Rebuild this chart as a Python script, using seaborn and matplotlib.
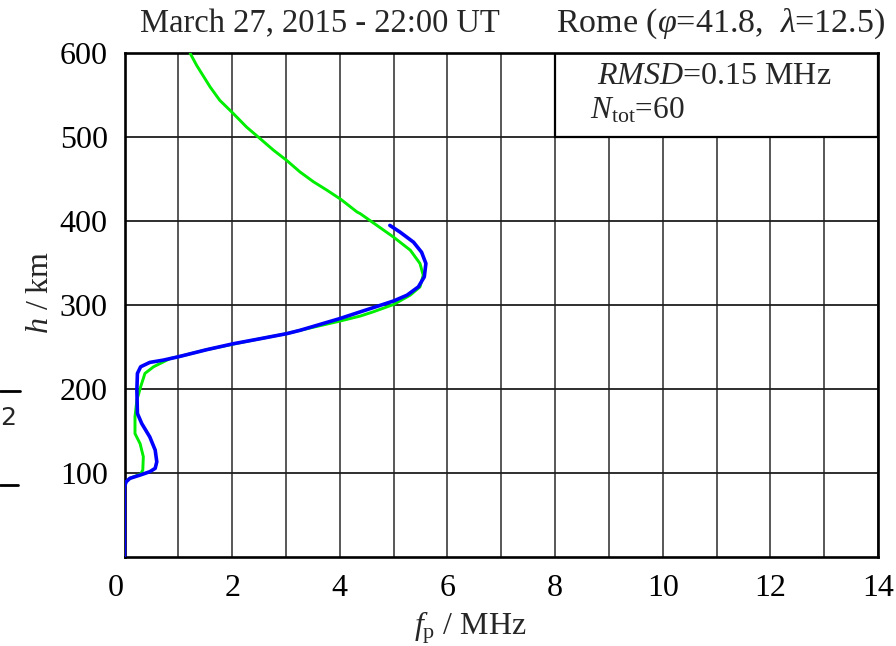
import matplotlib
matplotlib.use("Agg")
import matplotlib.pyplot as plt
import seaborn as sns
import pandas as pd
from matplotlib.patches import Rectangle
from matplotlib.lines import Line2D
from matplotlib.transforms import ScaledTranslation

# ---- data ----
model_f = [1.22, 1.34, 1.59, 1.77, 2.01, 2.27, 2.49, 2.77, 3.01, 3.26, 3.51, 3.76,
           4.02, 4.32, 4.38, 4.69, 5.00, 5.31, 5.49, 5.55, 5.49, 5.31, 5.00, 4.62,
           4.38, 4.00, 3.26, 3.01, 2.52, 2.02, 1.53, 1.00, 0.85, 0.54, 0.38, 0.30,
           0.23, 0.195, 0.195, 0.29, 0.35, 0.34, 0.30, 0.10, 0.03, 0.0, 0.0]
model_h = [600, 585.7, 560, 544, 529, 512, 500, 484.5, 472.6, 458.7, 447, 437,
           426, 411, 409, 395, 381, 365.5, 349.6, 335.7, 321.8, 312, 300.8, 292,
           287, 281, 270, 266, 260, 253.6, 247, 238.5, 236.5, 226.6, 218.7, 202.8,
           187, 167, 147, 135, 119.4, 103.6, 98.8, 93.7, 89.6, 83.7, 0]

meas_f = [4.93, 5.12, 5.37, 5.52, 5.60, 5.57, 5.46, 5.25, 5.00, 4.62, 4.38, 4.00,
          3.26, 3.01, 2.52, 2.02, 1.53, 1.00, 0.72, 0.47, 0.30, 0.24, 0.23, 0.24,
          0.32, 0.47, 0.57, 0.60, 0.57, 0.47, 0.29, 0.10, 0.03, 0.0, 0.0]
meas_h = [395, 387, 375, 363, 349.6, 333.7, 321.8, 311.9, 305, 297, 292, 284,
          270, 266, 260, 254, 247, 238.5, 234.5, 231.8, 226.6, 218.7, 198.8, 171,
          159, 143, 127.4, 113.4, 105.6, 101.6, 97.6, 93.7, 89.6, 83.7, 0]

x_ticks = [0, 2, 4, 6, 8, 10, 12, 14]
y_ticks = [100, 200, 300, 400, 500, 600]
title_left = "March 27, 2015 - 22:00 UT"
title_right = r"Rome ($\varphi$=41.8,  $\lambda$=12.5)"
rmsd_text = r"$RMSD$=0.15 MHz"
ntot_text = r"$N_{\rm tot}$=60"

# ---- style ----
sns.set_theme(style="white")
plt.rcParams["font.family"] = ["Liberation Serif", "DejaVu Serif"]
plt.rcParams["mathtext.fontset"] = "custom"
plt.rcParams["mathtext.rm"] = "Liberation Serif"
plt.rcParams["mathtext.it"] = "Liberation Serif:italic"
plt.rcParams["mathtext.bf"] = "Liberation Serif:bold"

fig = plt.figure(figsize=(8.96, 6.46), dpi=100)
AX_L, AX_R, AX_T, AX_B = 124.5, 878, 53.3, 557
ax = fig.add_axes([AX_L / 896, 1 - AX_B / 646, (AX_R - AX_L) / 896, (AX_B - AX_T) / 646])

df_model = pd.DataFrame({"f": model_f, "h": model_h})
df_meas = pd.DataFrame({"f": meas_f, "h": meas_h})

sns.lineplot(data=df_model, x="f", y="h", sort=False, estimator=None, ax=ax,
             color="#00ee00", linewidth=2.1, zorder=3)
sns.lineplot(data=df_meas, x="f", y="h", sort=False, estimator=None, ax=ax,
             color="#0000ff", linewidth=2.6, zorder=4)

ax.set_xlim(0, 14)
ax.set_ylim(0, 600)
ax.set_xticks(x_ticks)
ax.set_xticks([v for v in range(1, 14, 2)], minor=True)
ax.set_yticks(y_ticks)
ax.set_xticklabels([str(v) for v in x_ticks])
ax.set_yticklabels([str(v) for v in y_ticks])
ax.set_axisbelow(True)
ax.xaxis.grid(True, which="both", color="#4a4a4a", linewidth=1.3)
ax.yaxis.grid(True, which="major", color="#1e1e1e", linewidth=1.3)
ax.tick_params(axis="both", which="both", length=0, labelsize=23, colors="black")
ax.tick_params(axis="x", pad=12)
ax.tick_params(axis="y", pad=12)
for s in ax.spines.values():
    s.set_visible(True)
    s.set_color("black")
    s.set_linewidth(1.9)

# shift the "0" x tick label left as in the reference
lab0 = ax.get_xticklabels()[0]
lab0.set_transform(lab0.get_transform() + ScaledTranslation(-9 / 100, 0, fig.dpi_scale_trans))

W, H = AX_R - AX_L, AX_B - AX_T
ax.set_xlabel(r"$f_{\rm p}$ / MHz", fontsize=23)
ax.set_ylabel(r"$h$ / km", fontsize=23)
ax.xaxis.set_label_coords((470 - AX_L) / W, -(609 - AX_B) / H)
ax.yaxis.set_label_coords(-(AX_L - 55) / W, (AX_B - 292) / H)

# info box
ax.add_patch(Rectangle((8, 500), 6, 100, facecolor="white", edgecolor="black",
                       linewidth=1.6, zorder=2))
ax.text(8.78, 572, rmsd_text, fontsize=23, ha="left", va="center", zorder=5)
ax.text(8.65, 532, ntot_text, fontsize=22.5, ha="left", va="center", zorder=5)

# titles
fig.text(140 / 896, 1 - 24 / 646, title_left, fontsize=23.5, ha="left", va="center")
fig.text(556 / 896, 1 - 24 / 646, title_right, fontsize=24.5, ha="left", va="center")

# small artifacts at the left edge
fig.add_artist(Line2D([0, 20 / 896], [1 - 391 / 646, 1 - 391 / 646], color="black", linewidth=2))
fig.add_artist(Line2D([0, 18 / 896], [1 - 485 / 646, 1 - 485 / 646], color="black", linewidth=2))
fig.text(0, 1 - 418 / 646, "2", fontsize=18, ha="left", va="center", family="DejaVu Sans")

fig.savefig("out.png", dpi=100)
